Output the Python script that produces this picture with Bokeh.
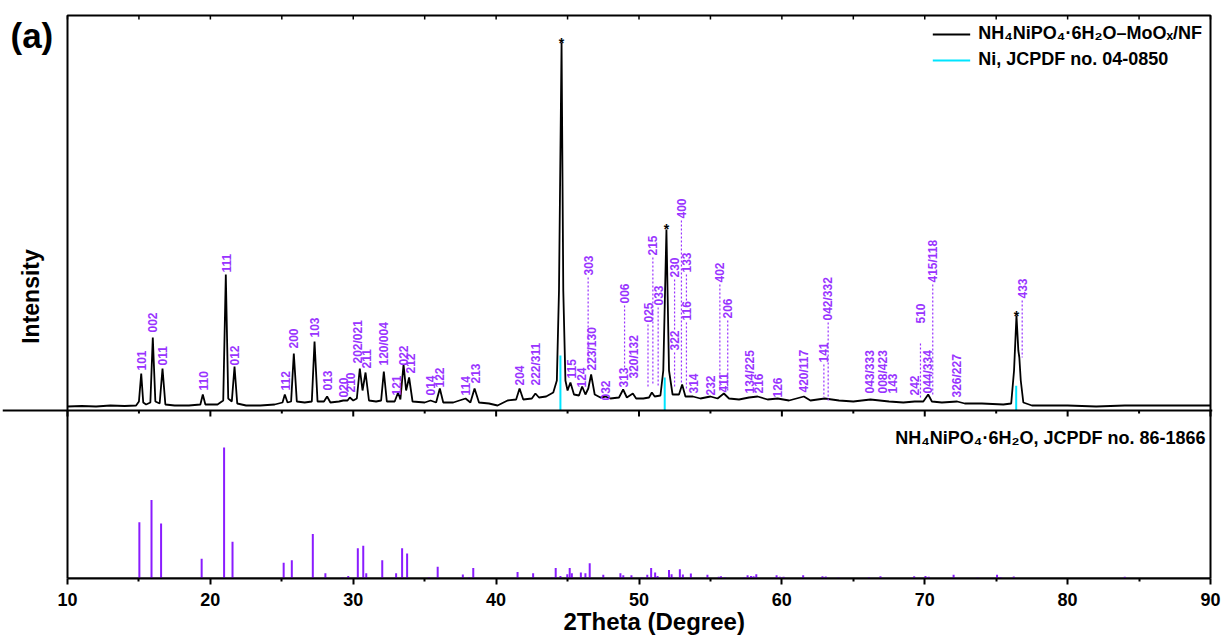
import math
from bokeh.plotting import figure
from bokeh.models import Range1d, Span, Label, Legend, LegendItem, FixedTicker, Title
from bokeh.embed import file_html
from bokeh.resources import INLINE
from bokeh.core.properties import value

# ---------------- data ----------------
# measured pattern of NH4NiPO4·6H2O–MoOx/NF : 2theta (deg), intensity (a.u.)
tt = [10.0, 11.0, 12.0, 13.0, 14.0, 14.8, 15.0, 15.16, 15.3, 15.5, 15.8, 15.97, 16.15, 16.45, 16.65, 16.85,
      17.5, 18.5, 19.3, 19.47, 19.65, 20.5, 20.9, 21.08, 21.25, 21.5, 21.69, 21.88, 22.5, 23.5, 24.5,
      25.05, 25.21, 25.4, 25.65, 25.84, 26.05, 26.6, 27.1, 27.29, 27.5, 27.95, 28.17, 28.4, 29.0, 29.3,
      29.6, 29.76, 30.0, 30.25, 30.46, 30.65, 30.86, 31.1, 31.6, 31.95, 32.14, 32.35, 32.9, 33.14, 33.3,
      33.52, 33.7, 33.91, 34.15, 35.0, 35.41, 35.8, 36.06, 36.3, 37.0, 37.86, 38.2, 38.49, 38.8, 39.5,
      40.1, 40.8, 41.4, 41.64, 41.9, 42.5, 42.75, 43.0, 43.5, 44.0, 44.25, 44.4, 44.58, 44.7, 44.85,
      45.0, 45.2, 45.45, 45.8, 46.02, 46.25, 46.45, 46.65, 46.9, 47.3, 47.66, 48.0, 48.6, 48.89, 49.15,
      49.57, 49.8, 50.3, 50.7, 50.9, 51.1, 51.5, 51.7, 51.92, 52.1, 52.35, 52.8, 53.02, 53.25, 53.77,
      54.3, 55.0, 55.5, 55.94, 56.3, 57.0, 57.7, 58.3, 59.0, 59.7, 60.5, 61.54, 62.0, 63.0, 64.0, 65.0,
      66.2, 67.5, 68.5, 69.3, 69.9, 70.24, 70.5, 71.2, 72.27, 72.8, 74.0, 75.5, 76.05, 76.25, 76.42,
      76.55, 76.62, 76.72, 76.9, 77.5, 78.5, 80.0, 82.0, 84.0, 86.0, 88.0, 90.0]
inten = [4, 4.5, 4, 5, 4.5, 5, 9, 37, 8, 6, 8, 73, 9, 7, 42, 6,
         5, 5, 6, 16, 6, 6, 10, 136, 12, 9, 44, 7, 5, 5, 6,
         8, 16, 8, 9, 57, 9, 8, 9, 69, 9, 9, 14, 8, 9, 10,
         10, 13, 10, 12, 42, 20, 38, 10, 9, 10, 39, 9, 9, 18, 11,
         46, 20, 33, 9, 8, 10, 8, 22, 8, 8, 12, 8, 22, 8, 7,
         5, 10, 11, 22, 11, 12, 17, 13, 14, 18, 30, 120, 368, 120, 30,
         20, 28, 16, 15, 24, 16, 22, 36, 16, 13, 14, 12, 13, 21, 13,
         17, 12, 12, 13, 18, 14, 15, 40, 181, 40, 16, 16, 26, 14, 14,
         12, 14, 12, 17, 12, 11, 13, 14, 11, 12, 10, 14, 10, 12, 10, 9,
         11, 9, 8, 9, 9, 16, 9, 8, 9, 7, 7, 6, 7, 40, 95,
         60, 53, 30, 8, 5, 5, 5, 4, 5, 5, 5, 5]

# NH4NiPO4·6H2O, JCPDF no. 86-1866 : position (deg), relative intensity (%)
ref_pos = [15.03, 15.88, 16.55, 19.39, 20.96, 21.55, 25.13, 25.70, 27.17, 28.05, 29.25, 29.65, 30.32, 30.70,
           30.91, 32.03, 33.0, 33.42, 33.77, 35.29, 35.91, 37.67, 38.1, 38.40, 41.50, 42.59, 43.90, 44.17,
           44.5, 44.98, 45.15, 45.3, 45.93, 46.25, 46.55, 47.5, 48.7, 48.9, 49.47, 50.18, 50.58, 50.85,
           51.13, 51.3, 52.1, 52.28, 52.44, 52.86, 53.07, 53.63, 54.79, 55.58, 55.74, 56.02, 57.37, 57.6,
           57.84, 58.02, 58.21, 59.63, 59.86, 60.12, 61.49, 62.84, 63.07, 63.95, 66.09, 66.9, 69.26, 70.05,
           70.28, 72.02, 73.7, 75.06, 75.3, 76.23, 84.0]
ref_int = [43, 60, 42, 15, 100, 28, 12, 14, 34, 4, 1, 2, 23, 25,
           4, 14, 4, 23, 19, 1, 9, 3, 1, 8, 5, 4, 1, 8,
           2, 3.3, 8, 4, 4.6, 4, 11.7, 2.8, 4, 2.5, 2.5, 1, 2.8, 8,
           4.6, 2, 6.4, 3.3, 0.8, 7, 3, 3.8, 2.8, 1.3, 1.8, 1, 1, 2.5,
           2, 1.8, 3.3, 2.5, 1.3, 1.3, 2.5, 1.8, 1.5, 0.8, 1, 1.8, 1.8, 2,
           1.3, 2.8, 0.8, 2.8, 1.2, 1.5, 1.4]

# Ni, JCPDF no. 04-0850
ni_pos = [44.5, 51.8, 76.4]
ni_int = [100, 60, 45]

# (hkl) labels: position, intensity level where the label starts, dashed leader (top, bottom) or None
lab_hkl = ["101", "002", "011", "110", "111", "012", "112", "200", "103", "013", "020", "210", "202/021",
           "211", "120/004", "121", "022", "212", "014", "122", "114", "213", "204", "222/311", "115", "124",
           "223/130", "303", "032", "313", "006", "320/132", "025", "215", "033", "230", "322", "400", "133",
           "116", "314", "232", "402", "411", "206", "134/225", "216", "126", "420/117", "141", "042/332",
           "043/333", "008/423", "143", "242", "510", "044/334", "415/118", "326/227", "433"]
lab_pos = [15.16, 15.97, 16.65, 19.54, 21.13, 21.71, 25.26, 25.84, 27.29, 28.22, 29.3, 29.81, 30.32,
           30.93, 32.14, 33.03, 33.49, 34.0, 35.41, 36.06, 37.86, 38.56, 41.64, 42.76, 45.25, 45.98,
           46.72, 46.44, 47.66, 48.89, 48.99, 49.64, 50.63, 50.97, 51.34, 52.49, 52.49, 52.97, 53.32,
           53.32, 53.79, 55.0, 55.66, 55.94, 56.21, 57.76, 58.34, 59.72, 61.58, 62.94, 63.24,
           66.2, 67.06, 67.76, 69.28, 69.7, 70.24, 70.56, 72.27, 76.82]
lab_level = [40, 78, 45, 20, 138, 45, 20, 62, 73, 20, 13, 18, 47,
             42, 45, 15, 45, 37, 15, 23, 15, 27, 25, 25, 32, 23,
             40, 135, 10, 23, 107, 32, 88, 155, 105, 133, 60, 192, 138,
             90, 17, 15, 128, 18, 92, 17, 17, 13, 18, 48, 90,
             17, 17, 17, 15, 87, 17, 128, 13, 112]
lab_dash_top = [None] * 27 + [133, None, None, 105, None, 86, 153, 103, 131, 58, 190, 136,
                              88, None, None, 126, None, 90, None, None, None, None, 46, 88,
                              None, None, None, None, 67, None, 126, None, 110]
lab_dash_bot = [None] * 27 + [42, None, None, 43, None, 23, 27, 25, 80, 22, 27, 108,
                              22, None, None, 20, None, 18, None, None, None, None, 13, 10,
                              None, None, None, None, 13, None, 15, None, 53]

# reflections of the Ni substrate marked with *
star_pos = [44.58, 51.92, 76.42]
star_level = [368, 182, 95]

x_major = [10, 20, 30, 40, 50, 60, 70, 80, 90]
x_minor = [15, 25, 35, 45, 55, 65, 75, 85]

# ---------------- layout / style ----------------
SEP = 168            # height of the lower (reference) panel in plot units (1 unit = 1 px)
TOP = 563            # top of the bordered box in plot units
STICK = 1.31         # px per % in the lower panel
NI = 0.55            # px per % for the Ni reference lines
PXDEG = 14.2875      # px per degree
PURPLE = "#9933ff"
STICK_COL = "#8a1cff"
CYAN = "#00e5ff"
FONT = "Liberation Sans"

# the frame is extended to the left so the panel letter and y title live inside it
p = figure(frame_width=1210, frame_height=565,
           x_range=Range1d(x_major[0] - 65 / PXDEG, x_major[-1] + 2 / PXDEG), y_range=Range1d(0, TOP + 2),
           output_backend="svg", toolbar_location=None,
           min_border_left=2, min_border_right=12, min_border_top=13, min_border_bottom=59)
p.xgrid.visible = False
p.ygrid.visible = False
p.outline_line_alpha = 0
p.background_fill_color = "white"
p.border_fill_color = "white"
p.yaxis.visible = False

xa = p.xaxis[0]
xa.bounds = (x_major[0], x_major[-1])
xa.ticker = FixedTicker(ticks=x_major, minor_ticks=x_minor)
xa.axis_line_width = 2
xa.major_tick_line_width = 2
xa.minor_tick_line_width = 2
xa.major_tick_out = 6
xa.major_tick_in = 0
xa.minor_tick_out = 3
xa.minor_tick_in = 0
xa.major_label_text_font = FONT
xa.major_label_text_font_style = "bold"
xa.major_label_text_font_size = "18px"
xa.major_label_text_color = "black"
xa.major_label_standoff = 8

# x title, placed under the axis so that it sits where the original has it
p.add_layout(Title(text="2Theta (Degree)", align="left", offset=561, standoff=-5,
                   text_font=FONT, text_font_style="bold", text_font_size="24px",
                   text_color="black"), "below")

# bordered box, separator between the panels with its ticks, inward ticks on the top edge
p.quad(left=[x_major[0]], right=[x_major[-1]], bottom=[0], top=[TOP], fill_alpha=0,
       line_color="black", line_width=2)
p.add_layout(Span(location=SEP, dimension="width", line_color="black", line_width=2))
p.segment(x0=x_major, y0=[SEP] * len(x_major), x1=x_major, y1=[SEP - 6] * len(x_major),
          line_color="black", line_width=2)
p.segment(x0=x_minor, y0=[SEP] * len(x_minor), x1=x_minor, y1=[SEP - 3] * len(x_minor),
          line_color="black", line_width=2)
p.segment(x0=x_major + x_minor, y0=[TOP] * 17, x1=x_major + x_minor, y1=[TOP - 4] * 17,
          line_color="black", line_width=1.5)

# lower panel: reference sticks
p.segment(x0=ref_pos, y0=[0] * len(ref_pos), x1=ref_pos, y1=[v * STICK for v in ref_int],
          line_color=STICK_COL, line_width=2)

# upper panel: Ni lines and measured pattern
r_ni = p.segment(x0=ni_pos, y0=[SEP] * 3, x1=ni_pos, y1=[SEP + v * NI for v in ni_int],
                 line_color=CYAN, line_width=2)
r_xrd = p.line(tt, [SEP + v for v in inten], line_color="black", line_width=1.8)

# hkl labels and leaders
dx0, dy0, dy1 = [], [], []
for x, t, b in zip(lab_pos, lab_dash_top, lab_dash_bot):
    if t is not None:
        dx0.append(x)
        dy0.append(SEP + t)
        dy1.append(SEP + b)
p.segment(x0=dx0, y0=dy0, x1=dx0, y1=dy1, line_color=PURPLE, line_width=1.2, line_dash="2 2")
p.text(x=lab_pos, y=[SEP + v for v in lab_level], text=lab_hkl, angle=math.pi / 2,
       text_align="left", text_baseline="middle", text_color=PURPLE,
       text_font=value(FONT), text_font_style="bold", text_font_size="12px")

p.text(x=star_pos, y=[SEP + v for v in star_level], text=["*"] * 3, text_align="center",
       text_baseline="alphabetic", text_color="black", text_font=value(FONT),
       text_font_style="bold", text_font_size="14px")

legend = Legend(items=[LegendItem(label="NH\u2084NiPO\u2084\u00b76H\u2082O\u2013MoO\u2093/NF", renderers=[r_xrd]),
                       LegendItem(label="Ni, JCPDF no. 04-0850", renderers=[r_ni])],
                location="top_right", border_line_alpha=0, background_fill_alpha=0,
                label_text_font=FONT, label_text_font_style="bold", label_text_font_size="18px",
                label_text_color="black", glyph_width=38, label_standoff=8, spacing=5,
                padding=1, margin=9, label_height=20, glyph_height=20)
p.add_layout(legend)

p.add_layout(Label(x=x_major[-1], y=141, x_offset=-5, text="NH\u2084NiPO\u2084\u00b76H\u2082O, JCPDF no. 86-1866",
                   text_align="right", text_baseline="middle", text_font=FONT, text_font_style="bold",
                   text_font_size="18px", text_color="black"))
p.add_layout(Label(x=x_major[0], y=282, x_offset=-37, text="Intensity", angle=math.pi / 2,
                   text_align="center", text_baseline="middle", text_font=FONT, text_font_style="bold",
                   text_font_size="23px", text_color="black"))
p.add_layout(Label(x=x_major[0], y=TOP, x_offset=-57, text="(a)", text_align="left",
                   text_baseline="top", text_font=FONT, text_font_style="bold",
                   text_font_size="35px", text_color="black"))

open("out.html", "w").write(file_html(p, INLINE))
